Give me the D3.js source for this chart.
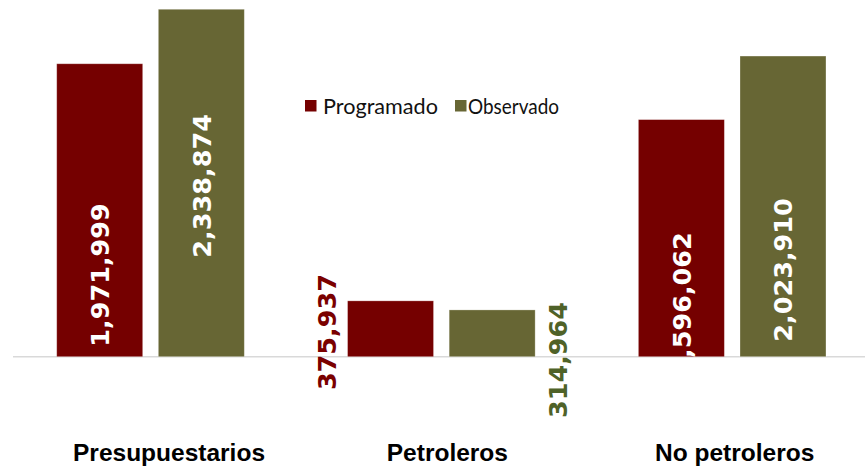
<!DOCTYPE html>
<html>
<head>
<meta charset="utf-8">
<script src="https://cdn.jsdelivr.net/npm/d3@7"></script>
<style>
  body { margin: 0; background: #fff; }
  svg { display: block; }
</style>
</head>
<body>
<div id="chart"></div>
<script>
// data
var categories = ["Presupuestarios", "Petroleros", "No petroleros"];
var seriesNames = ["Programado", "Observado"];
var programado = [1971999, 375937, 1596062];
var observado = [2338874, 314964, 2023910];

var colors = { Programado: "#750000", Observado: "#676634" };
var outsideColors = { Programado: "#7a0000", Observado: "#4f6228" };

// where each label's centre sits (value units along y) and whether it goes inside the bar
var labelLayout = {
  Programado: [{ at: 550000, inside: true }, { at: 166000, inside: false, side: -1 }, { at: 355000, inside: true }],
  Observado: [{ at: 1150000, inside: true }, { at: -22000, inside: false, side: 1 }, { at: 584000, inside: true }]
};

var width = 865, height = 469;
var baseY = 356.7;

var svg = d3.select("#chart").append("svg")
  .attr("width", width)
  .attr("height", height);

var x0 = d3.scaleBand()
  .domain(categories)
  .range([5.1, 877.6])
  .paddingInner(0.355)
  .paddingOuter(0.1775);

var x1 = d3.scaleBand()
  .domain(seriesNames)
  .range([0, x0.bandwidth()])
  .paddingInner(0.154);

var y = d3.scaleLinear()
  .domain([0, 2400000])
  .range([baseY, baseY - 2400000 * 1.4855e-4]);

var rows = categories.map(function (c, i) {
  return {
    cat: c,
    values: [
      { name: "Programado", value: programado[i], idx: i },
      { name: "Observado", value: observado[i], idx: i }
    ]
  };
});

var defs = svg.append("defs");

// axis baseline
svg.append("line")
  .attr("x1", 13).attr("x2", width)
  .attr("y1", baseY).attr("y2", baseY)
  .attr("stroke", "#d9d9d9")
  .attr("stroke-width", 1.5);

var groups = svg.selectAll("g.cat")
  .data(rows)
  .enter().append("g")
  .attr("class", "cat")
  .attr("transform", function (d) { return "translate(" + x0(d.cat) + ",0)"; });

groups.selectAll("rect")
  .data(function (d) { return d.values; })
  .enter().append("rect")
  .attr("x", function (d) { return x1(d.name); })
  .attr("y", function (d) { return y(d.value); })
  .attr("width", x1.bandwidth())
  .attr("height", function (d) { return baseY - y(d.value); })
  .attr("fill", function (d) { return colors[d.name]; })
  .attr("stroke", "rgba(255,255,255,0.35)")
  .attr("stroke-width", 0.8);

var fmt = d3.format(",");

groups.each(function (row, gi) {
  var g = d3.select(this);
  row.values.forEach(function (d) {
    var lay = labelLayout[d.name][d.idx];
    var bx = x1(d.name);
    var cx, clipId = null;
    if (lay.inside) {
      cx = bx + x1.bandwidth() / 2;
      clipId = "clip-" + gi + "-" + d.name;
      defs.append("clipPath").attr("id", clipId)
        .append("rect")
        .attr("x", x0(row.cat) + bx)
        .attr("y", y(d.value))
        .attr("width", x1.bandwidth())
        .attr("height", baseY - y(d.value));
    } else {
      cx = lay.side < 0 ? bx - 20.5 : bx + x1.bandwidth() + 23;
    }
    var holder = g.append("g");
    if (clipId) {
      holder = svg.append("g").attr("clip-path", "url(#" + clipId + ")")
        .append("g").attr("transform", "translate(" + x0(row.cat) + ",0)");
    }
    holder.append("text")
      .attr("transform", "translate(" + cx + "," + y(lay.at) + ") rotate(-90)")
      .attr("text-anchor", "middle")
      .attr("dy", "0.36em")
      .attr("font-family", "DejaVu Sans, Verdana, sans-serif")
      .attr("font-weight", "bold")
      .attr("font-size", 25.5)
      .attr("fill", lay.inside ? "#ffffff" : outsideColors[d.name])
      .text(fmt(d.value));
  });
});

// category labels
svg.selectAll("text.cat")
  .data(categories)
  .enter().append("text")
  .attr("class", "cat")
  .attr("x", function (d, i) { return x0(d) + x0.bandwidth() / 2 + (i === 0 ? 18.5 : i === 1 ? 6 : 2.5); })
  .attr("y", 460.5)
  .attr("text-anchor", "middle")
  .attr("font-family", "Liberation Sans, Arial, sans-serif")
  .attr("font-weight", "bold")
  .attr("font-size", 24.5)
  .attr("fill", "#000")
  .text(function (d) { return d; });

// legend
var legend = svg.append("g").attr("transform", "translate(305,100)");
var legX = [0, 150];
var legLen = [115, 91];
seriesNames.forEach(function (s, i) {
  var lg = legend.append("g").attr("transform", "translate(" + legX[i] + ",0)");
  lg.append("rect")
    .attr("width", 11.5).attr("height", 11.5)
    .attr("fill", colors[s]);
  lg.append("text")
    .attr("x", i === 0 ? 18 : 13)
    .attr("y", 14.3)
    .attr("font-family", "Lato, Open Sans, sans-serif")
    .attr("font-size", 21)
    .attr("textLength", legLen[i])
    .attr("lengthAdjust", "spacingAndGlyphs")
    .attr("fill", "#111")
    .text(s);
});
</script>
</body>
</html>
